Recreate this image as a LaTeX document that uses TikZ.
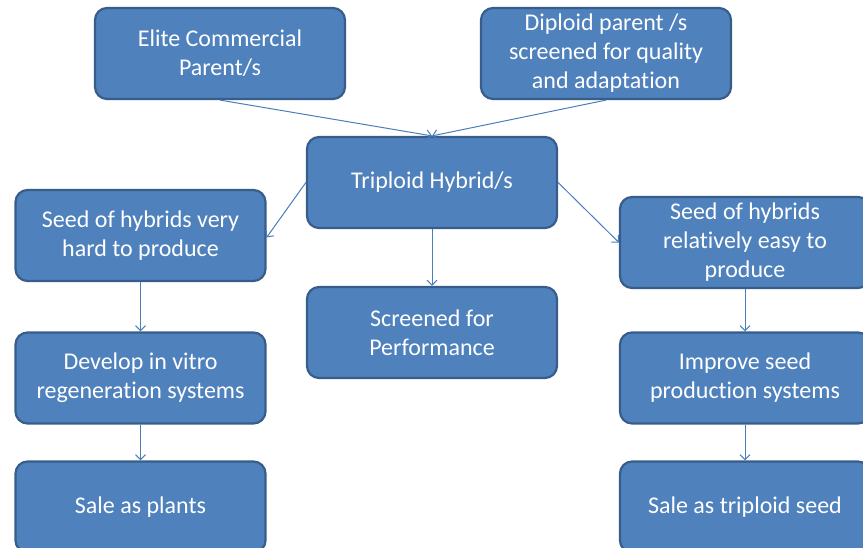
\documentclass[tikz,border=0pt]{standalone}
\usepackage{fontspec}
\setmainfont[Ligatures=CommonOff]{Carlito}
\definecolor{boxfill}{RGB}{79, 129, 189}
\definecolor{boxline}{RGB}{56, 93, 138}
\definecolor{arrowline}{RGB}{74, 126, 187}
\usetikzlibrary{arrows.meta}
\tikzset{
    stagebox/.style={rectangle, rounded corners=12pt, draw=boxline,
        line width=2.2pt, fill=boxfill, text=white, align=center,
        minimum width=250pt, minimum height=91pt, inner sep=2pt,
        font=\fontsize{24}{29}\selectfont},
    flow/.style={draw=arrowline, line width=1pt,
        -{Straight Barb[length=5pt, width=10pt, line width=1pt]}},
}

\begin{document}
\begin{tikzpicture}[x=1pt, y=-1pt]
            \useasboundingbox (0, 0) rectangle (863, 548);
            \clip (0, 0) rectangle (863, 548);
            \node[stagebox] (elite) at (220, 53.5) {Elite Commercial\\Parent/s};
            \node[stagebox] (diploid) at (606, 53.5)
                {Diploid parent /s\\screened for quality\\and adaptation};
            \node[stagebox] (triploid) at (432, 182.5) {Triploid Hybrid/s};
            \node[stagebox] (hard) at (140.5, 235.5)
                {Seed of hybrids very\\hard to produce};
            \node[stagebox] (screened) at (432, 332.5)
                {Screened for\\Performance};
            \node[stagebox] (easy) at (745, 242.5)
                {Seed of hybrids\\relatively easy to\\produce};
            \node[stagebox] (vitro) at (140.5, 378)
                {Develop in vitro\\regeneration systems};
            \node[stagebox] (improve) at (745, 378)
                {Improve seed\\production systems};
            \node[stagebox] (plants) at (140.5, 507) {Sale as plants};
            \node[stagebox] (seed) at (745, 507) {Sale as triploid seed};
            \draw[flow] (elite.south) -- (triploid.north);
            \draw[flow] (diploid.south) -- (triploid.north);
            \draw[flow] (triploid.west) -- ([yshift=-2pt]hard.east);
            \draw[flow] (triploid.east) -- (easy.west);
            \foreach \a/\b in {triploid/screened, hard/vitro, vitro/plants,
                easy/improve, improve/seed} {
                \draw[flow] (\a.south) -- (\b.north);
            }
        \end{tikzpicture}
\end{document}
